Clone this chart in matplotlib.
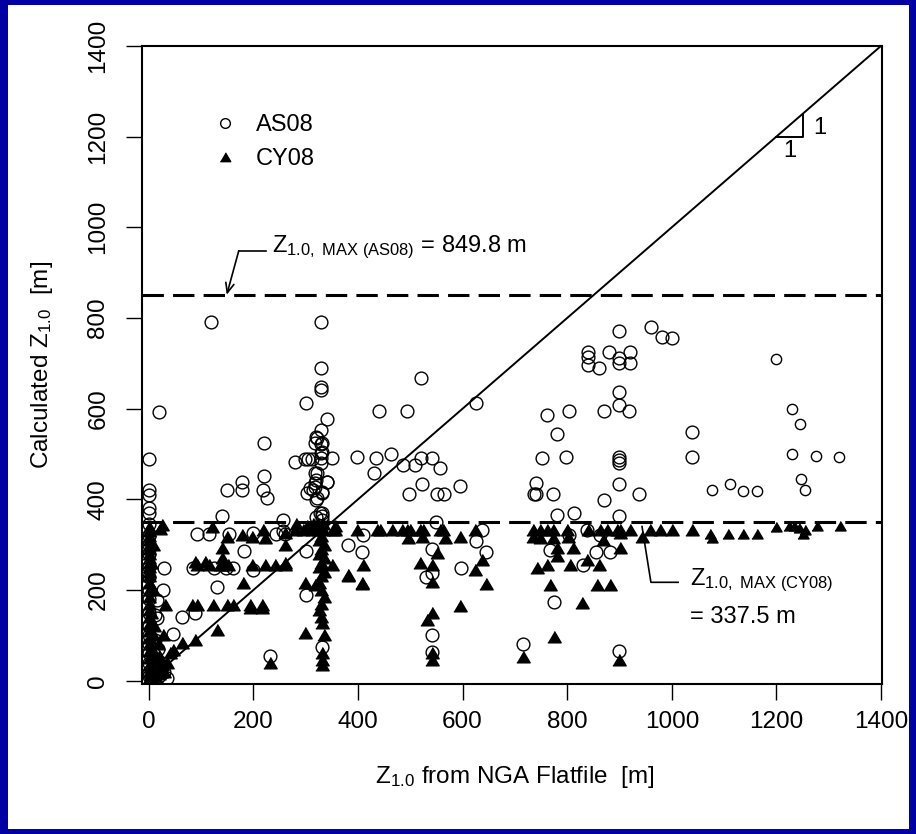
import matplotlib
matplotlib.use('Agg')
import matplotlib.pyplot as plt
from matplotlib.patches import Rectangle
from matplotlib.lines import Line2D
import numpy as np

plt.rcParams['font.family'] = 'Liberation Sans'
plt.rcParams['mathtext.fontset'] = 'custom'
plt.rcParams['mathtext.rm'] = 'Liberation Sans'
plt.rcParams['mathtext.it'] = 'Liberation Sans:italic'

# AS08 (open circles): Z1.0 from flatfile vs calculated
as08_x = [118, 330, 330, 330, 330, 300, 20, 340, 330, 321, 330, 220, 0, 280, 298, 305, 312,
          330, 330, 330, 350, 321, 220, 178, 340, 320, 0, 150, 178, 218, 308,
          0, 0, 0, 0, 0, 0, 0, 0, 0, 0, 0, 0, 0, 0, 0, 0, 0, 0, 0,
          140, 226, 317, 331, 321, 327, 331, 256, 92, 115, 153, 199, 243, 260, 182, 300,
          381, 407, 30, 84, 124, 147, 161, 199, 27, 130, 300, 15, 11, 15, 63, 88, 46, 231, 331,
          5, 10, 15, 20, 25, 8, 30, 12, 18, 35,
          319, 331, 317, 331, 317, 340, 317, 314, 331, 302, 319, 331, 319, 331,
          520, 625, 440, 493, 398, 434, 463, 430, 486, 509, 520, 541, 557, 497, 522, 551, 564,
          595, 549, 409, 637, 625, 644, 541, 597, 530, 541, 541, 541, 715, 256,
          899, 960, 981, 1000, 840, 840, 840, 860, 880, 899, 899, 920, 920, 899, 899, 918,
          761, 803, 870, 780, 1038, 751, 797, 899, 899, 899, 1038, 740, 736, 773, 899, 937,
          870, 780, 813, 899, 803, 838, 862, 767, 855, 882, 830, 775, 899, 740,
          1077, 1200, 1230, 1245, 1230, 1276, 1320, 1247, 1255, 1111, 1136, 1163]
as08_y = [790, 790, 690, 648, 640, 612, 593, 578, 553, 535, 522, 525, 490, 483, 490, 490, 490,
          502, 491, 480, 491, 458, 452, 438, 438, 442, 420, 420, 420, 420, 425,
          410, 380, 370, 345, 320, 300, 280, 250, 228, 200, 180, 150, 120, 100, 80, 60, 40, 20, 10,
          364, 403, 428, 417, 403, 370, 364, 355, 323, 323, 323, 326, 323, 323, 287, 287,
          300, 284, 249, 249, 249, 249, 249, 245, 200, 207, 190, 178, 145, 139, 141, 150, 104, 55, 75,
          5, 15, 25, 10, 40, 60, 20, 90, 70, 5,
          538, 525, 525, 505, 458, 439, 437, 421, 414, 414, 399, 370, 362, 355,
          668, 612, 595, 595, 494, 491, 500, 459, 476, 476, 491, 491, 470, 412, 434, 412, 412,
          430, 350, 322, 333, 309, 284, 291, 249, 229, 238, 101, 64, 81, 330,
          772, 780, 758, 756, 725, 714, 697, 690, 725, 712, 701, 725, 701, 637, 608, 595,
          586, 595, 595, 545, 549, 491, 494, 494, 487, 480, 494, 436, 412, 412, 434, 412,
          399, 366, 370, 364, 322, 333, 322, 289, 284, 284, 256, 174, 66, 412,
          421, 710, 600, 567, 500, 496, 494, 445, 421, 434, 419, 419]

# CY08 (filled triangles)
cy08_x = [0, 0, 0, 0, 0, 0, 0, 0, 0, 0, 0, 0, 0, 0, 0, 0, 0, 0, 0, 0, 0, 0, 0, 0, 0, 0, 0,
          8, 5, 8, 5, 8, 10, 5,
          10, 15, 20, 25, 30, 12, 20, 35, 40, 18, 28, 10,
          21, 25, 120, 149, 178, 197, 218, 222, 279, 295, 312, 323, 333, 352, 140, 140, 140,
          92, 115, 136, 151, 197, 222, 241, 260, 88, 107, 180, 298, 317, 381, 407,
          31, 82, 92, 122, 149, 161, 193, 216, 193, 216, 130, 88, 63, 46, 298, 331, 231, 331, 331, 331,
          330, 325, 335, 330, 325, 335, 330, 325, 335, 330, 325, 330, 335, 330, 325, 330, 335,
          281, 302, 314, 323, 333, 356, 260, 260, 260,
          356, 398, 436, 442, 465, 484, 493, 499, 518, 524, 557, 562, 623, 495, 522, 566, 595,
          350, 409, 518, 541, 551, 623, 637, 381, 407, 541, 644, 595, 541, 532, 541, 541, 715,
          734, 748, 761, 773, 799, 840, 862, 876, 895, 901, 920, 958, 977, 1000, 1038,
          734, 748, 773, 801, 868, 901, 943, 780, 811, 901, 780, 742, 761, 805, 838, 860,
          767, 857, 882, 828, 775, 899,
          1077, 1073, 1107, 1136, 1163, 1200, 1224, 1233, 1243, 1251, 1255, 1277, 1321]
cy08_y = [340, 330, 320, 310, 300, 290, 280, 270, 260, 250, 240, 230, 215, 200, 185, 170, 155,
          140, 125, 110, 95, 80, 65, 50, 35, 20, 5,
          300, 260, 200, 150, 100, 60, 30,
          10, 25, 15, 35, 20, 45, 55, 40, 60, 80, 100, 120,
          335, 344, 340, 317, 322, 317, 333, 315, 333, 333, 333, 333, 333, 333, 293, 271, 256,
          256, 256, 256, 256, 256, 256, 256, 256, 262, 262, 216, 216, 212, 234, 216,
          168, 168, 168, 168, 168, 168, 168, 168, 160, 160, 112, 90, 84, 68, 106, 128, 40, 62, 46, 35,
          320, 310, 300, 290, 280, 270, 260, 250, 240, 230, 215, 200, 185, 170, 155, 140, 100,
          345, 342, 345, 345, 345, 342, 326, 300, 260,
          333, 333, 333, 333, 333, 333, 333, 333, 333, 333, 333, 333, 333, 315, 317, 315, 317,
          256, 256, 260, 256, 282, 245, 267, 231, 214, 218, 214, 165, 150, 134, 62, 46, 53,
          333, 333, 333, 333, 333, 333, 333, 333, 333, 333, 333, 333, 333, 333, 333,
          317, 315, 315, 317, 311, 326, 317, 293, 293, 293, 275, 249, 256, 256, 267, 256,
          212, 212, 212, 172, 97, 46,
          315, 324, 324, 324, 324, 340, 342, 342, 337, 324, 333, 342, 342]

zmax_as08 = 849.8
zmax_cy08 = 337.5
zmax_cy08_drawn = 350   # line sits here in the picture

as08_x = np.array(as08_x); as08_y = np.array(as08_y)
cy08_x = np.array(cy08_x); cy08_y = np.array(cy08_y)

fig = plt.figure(figsize=(9.16, 8.34), dpi=100)
fig.patch.set_facecolor('#0000A3')
fig.add_artist(Rectangle((0.0087, 0.006), 0.9836, 0.988, transform=fig.transFigure,
                         facecolor='white', edgecolor='none', zorder=-5))

ax = fig.add_axes([0.155, 0.18, 0.808, 0.765])

tri = [(-1, -0.8), (1, -0.8), (0, 0.9)]
big = as08_x < 1060
ax.plot(as08_x[big], as08_y[big], 'o', ms=9.2, mfc='none', mec='black', mew=1.0, ls='none')
ax.plot(as08_x[~big], as08_y[~big], 'o', ms=7.4, mfc='none', mec='black', mew=1.0, ls='none')
big = cy08_x < 1060
ax.plot(cy08_x[big], cy08_y[big], marker=tri, ms=9.6, color='black', ls='none')
ax.plot(cy08_x[~big], cy08_y[~big], marker=tri, ms=8.0, color='black', ls='none')

ax.plot([0, 1400], [0, 1400], color='black', lw=1.4)
ax.axhline(zmax_as08, color='black', lw=2.2, dashes=(7, 3))
ax.axhline(zmax_cy08_drawn, color='black', lw=2.2, dashes=(7, 3))

# 1:1 slope triangle
ax.plot([1200, 1250, 1250], [1200, 1200, 1250], color='black', lw=1.4)
ax.text(1283, 1219, '1', fontsize=17, ha='center', va='center')
ax.text(1226, 1168, '1', fontsize=17, ha='center', va='center')

# annotations
ax.text(235, 955, r'Z$_{\mathregular{1.0,\ MAX\ (AS08)}}$ = %.1f m' % zmax_as08,
        fontsize=17, ha='left', va='center')
ax.plot([172, 224], [948, 948], color='black', lw=1.2)
ax.annotate('', xy=(149, 851), xytext=(172, 948),
            arrowprops=dict(arrowstyle='->,head_length=0.7,head_width=0.3', lw=1.2,
                            color='black', shrinkA=0, shrinkB=0))
ax.plot([943, 960, 1012], [340, 217, 217], color='black', lw=1.2)
ax.text(1035, 221, r'Z$_{\mathregular{1.0,\ MAX\ (CY08)}}$', fontsize=17, ha='left', va='center')
ax.text(1035, 141, '= %.1f m' % zmax_cy08, fontsize=17, ha='left', va='center')

handles = [Line2D([], [], marker='o', ls='none', ms=7, mfc='none', mec='black', mew=1.0),
           Line2D([], [], marker=tri, ls='none', ms=7.5, color='black')]
ax.legend(handles, ['AS08', 'CY08'], loc='upper left', bbox_to_anchor=(0.096, 0.893),
          frameon=False, fontsize=17, handlelength=1.0, handletextpad=0.8,
          labelspacing=0.5, borderpad=0, borderaxespad=0)

ax.set_xlim(-13, 1402)
ax.set_ylim(-7, 1400)
ax.set_xticks(np.arange(0, 1401, 200))
ax.set_yticks(np.arange(0, 1401, 200))
ax.tick_params(axis='both', direction='out', length=11.5, width=1.0, labelsize=17.5)
ax.tick_params(axis='x', pad=8)
ax.tick_params(axis='y', pad=12, labelrotation=90)
for lab in ax.get_yticklabels():
    lab.set_va('center')
for s in ax.spines.values():
    s.set_linewidth(1.5)

ax.set_xlabel(r'Z$_{\mathregular{1.0}}$ from NGA Flatfile  [m]', fontsize=17.5)
ax.set_ylabel(r'Calculated Z$_{\mathregular{1.0}}$  [m]', fontsize=17.5)
ax.xaxis.set_label_coords(0.504, -0.125)
ax.yaxis.set_label_coords(-0.117, 0.5)

fig.savefig('out.png', dpi=100, facecolor=fig.get_facecolor())
